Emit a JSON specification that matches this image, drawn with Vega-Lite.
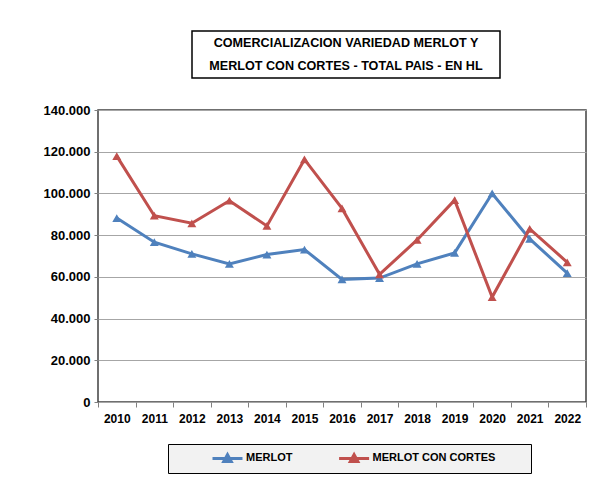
{
  "$schema": "https://vega.github.io/schema/vega-lite/v6.json",
  "background": "white",
  "padding": {"left": 42, "top": 30, "right": 5, "bottom": 5},
  "config": {"view": {"stroke": null}},
  "spacing": 24,
  "vconcat": [
    {
      "spacing": 0,
      "hconcat": [
        {
          "width": 93, "height": 47,
          "data": {"values": [{"t": ""}]},
          "mark": {"type": "text"},
          "encoding": {"text": {"field": "t"}}
        },
        {
          "width": 308, "height": 47,
          "view": {"stroke": "black", "strokeWidth": 1.5, "fill": "white"},
          "data": {"values": [
            {"row": 1, "line": "COMERCIALIZACION VARIEDAD MERLOT  Y"},
            {"row": 2, "line": "MERLOT CON CORTES - TOTAL PAIS - EN HL"}
          ]},
          "mark": {"type": "text", "font": "Liberation Sans", "fontSize": 12.6, "fontWeight": "bold", "color": "black"},
          "encoding": {
            "y": {"field": "row", "type": "ordinal", "axis": null},
            "text": {"field": "line"}
          }
        }
      ]
    },
    {
      "width": 488, "height": 292,
      "view": {"stroke": "#404040", "strokeWidth": 1.5},
      "data": {"values": [
        {"year": "2010", "serie": "MERLOT", "value": 88200},
        {"year": "2011", "serie": "MERLOT", "value": 76600},
        {"year": "2012", "serie": "MERLOT", "value": 71000},
        {"year": "2013", "serie": "MERLOT", "value": 66200},
        {"year": "2014", "serie": "MERLOT", "value": 70700},
        {"year": "2015", "serie": "MERLOT", "value": 73100},
        {"year": "2016", "serie": "MERLOT", "value": 58800},
        {"year": "2017", "serie": "MERLOT", "value": 59400},
        {"year": "2018", "serie": "MERLOT", "value": 66200},
        {"year": "2019", "serie": "MERLOT", "value": 71500},
        {"year": "2020", "serie": "MERLOT", "value": 100000},
        {"year": "2021", "serie": "MERLOT", "value": 78200},
        {"year": "2022", "serie": "MERLOT", "value": 61800},
        {"year": "2010", "serie": "MERLOT CON CORTES", "value": 117900},
        {"year": "2011", "serie": "MERLOT CON CORTES", "value": 89300},
        {"year": "2012", "serie": "MERLOT CON CORTES", "value": 85700},
        {"year": "2013", "serie": "MERLOT CON CORTES", "value": 96500},
        {"year": "2014", "serie": "MERLOT CON CORTES", "value": 84400},
        {"year": "2015", "serie": "MERLOT CON CORTES", "value": 116300},
        {"year": "2016", "serie": "MERLOT CON CORTES", "value": 92800},
        {"year": "2017", "serie": "MERLOT CON CORTES", "value": 61200},
        {"year": "2018", "serie": "MERLOT CON CORTES", "value": 77700},
        {"year": "2019", "serie": "MERLOT CON CORTES", "value": 96800},
        {"year": "2020", "serie": "MERLOT CON CORTES", "value": 50300},
        {"year": "2021", "serie": "MERLOT CON CORTES", "value": 83000},
        {"year": "2022", "serie": "MERLOT CON CORTES", "value": 67000}
      ]},
      "mark": {"type": "line", "strokeWidth": 3, "point": {"shape": "triangle-up", "size": 80, "filled": true, "opacity": 1}},
      "encoding": {
        "x": {
          "field": "year", "type": "ordinal", "bandPosition": 0.5,
          "scale": {"type": "band", "paddingInner": 0, "paddingOuter": 0},
          "axis": {"title": null, "labelAngle": 0, "tickBand": "extent", "domain": false, "tickSize": 5, "tickColor": "#808080",
                   "labelFont": "Liberation Sans", "labelFontWeight": "bold", "labelFontSize": 12, "labelColor": "black", "labelPadding": 6}
        },
        "y": {
          "field": "value", "type": "quantitative",
          "scale": {"domain": [0, 140000]},
          "axis": {"title": null, "values": [0, 20000, 40000, 60000, 80000, 100000, 120000, 140000],
                   "grid": true, "gridColor": "#a6a6a6", "domain": false, "tickSize": 4, "tickColor": "#808080",
                   "labelFont": "Liberation Sans", "labelFontWeight": "bold", "labelFontSize": 13, "labelColor": "black",
                   "labelExpr": "replace(format(datum.value, ','), ',', '.')", "labelPadding": 4}
        },
        "color": {
          "field": "serie", "type": "nominal",
          "scale": {"domain": ["MERLOT", "MERLOT CON CORTES"], "range": ["#4F81BD", "#C0504D"]},
          "legend": {"title": ".", "titleOrient": "right", "titlePadding": 28, "titleColor": "#f2f2f2", "titleFontSize": 10,
                     "orient": "none", "legendX": 70, "legendY": 413, "direction": "horizontal",
                     "fillColor": "#f2f2f2", "strokeColor": "black", "padding": 5, "columnPadding": 6.6, "symbolOffset": 45.5,
                     "symbolType": "M-2,0L2,0M-0.5,0.42L0,-0.5L0.5,0.42Z", "symbolSize": 225, "symbolStrokeWidth": 3,
                     "labelOffset": 9.5, "labelLimit": 250,
                     "encode": {"symbols": {"update": {"fill": {"scale": "color", "field": "value"}, "fillOpacity": {"value": 1}}}},
                     "labelFont": "Liberation Sans", "labelFontSize": 11, "labelFontWeight": "bold", "labelColor": "black"}
        }
      }
    }
  ]
}
